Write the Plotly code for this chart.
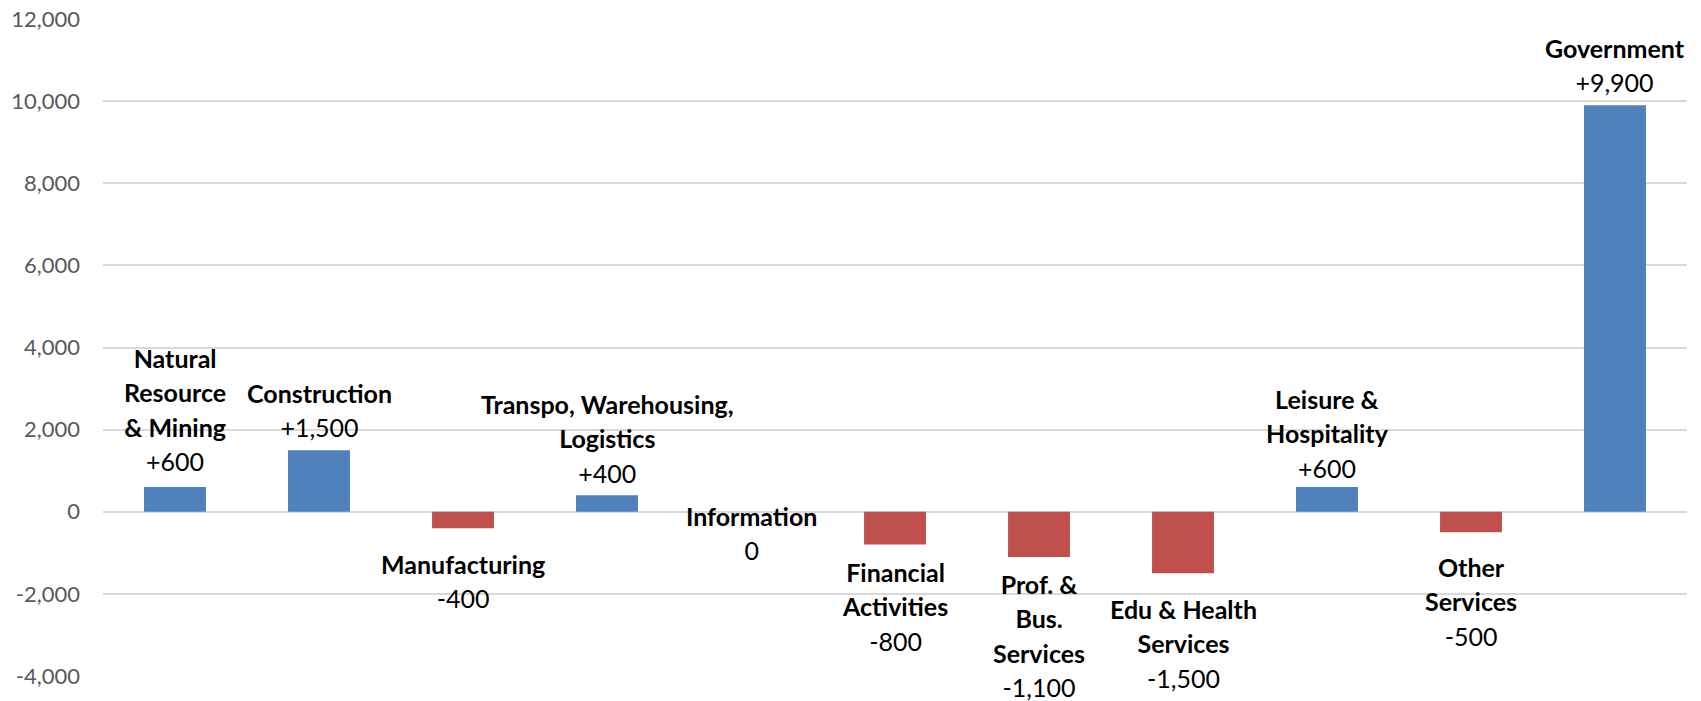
import plotly.graph_objects as go

# ---- data ----
categories = [
    "Natural Resource & Mining", "Construction", "Manufacturing",
    "Transpo, Warehousing, Logistics", "Information", "Financial Activities",
    "Prof. & Bus. Services", "Edu & Health Services", "Leisure & Hospitality",
    "Other Services", "Government",
]
label_lines = [
    ["Natural", "Resource", "& Mining"],
    ["Construction"],
    ["Manufacturing"],
    ["Transpo, Warehousing,", "Logistics"],
    ["Information"],
    ["Financial", "Activities"],
    ["Prof. &", "Bus.", "Services"],
    ["Edu & Health", "Services"],
    ["Leisure &", "Hospitality"],
    ["Other", "Services"],
    ["Government"],
]
values = [600, 1500, -400, 400, 0, -800, -1100, -1500, 600, -500, 9900]
y_ticks = [-4000, -2000, 0, 2000, 4000, 6000, 8000, 10000, 12000]

# ---- styles ----
BLUE = "#4F81BD"
RED = "#C0504D"
FONT = "Lato"
# per-label pixel gap between bar end and label (style only)
label_gap = [9, 6, 19, 5, -13, 10, 10, 19, 2, 18, 6]

colors = [BLUE if v >= 0 else RED for v in values]

fig = go.Figure(go.Bar(
    x=categories, y=values,
    marker=dict(color=colors, line=dict(width=0)),
    hoverinfo="skip",
))

def fmt(v):
    s = f"{abs(v):,}"
    if v > 0:
        return "+" + s
    if v < 0:
        return "-" + s
    return s

for cat, lines, v, g in zip(categories, label_lines, values, label_gap):
    txt = "<br>".join(
        f'<span style="font-size:25px"><b>{ln}</b></span>' for ln in lines
    ) + '<br><span style="font-size:25px">' + fmt(v) + "</span>"
    if v > 0:
        ya, ys = "bottom", g
    else:
        ya, ys = "top", -g
    fig.add_annotation(
        x=cat, y=v, text=txt, showarrow=False,
        xanchor="center", yanchor=ya, yshift=ys,
        font=dict(family=FONT, size=26.5, color="#000000"),
        align="center",
    )

fig.update_layout(
    width=1701, height=701,
    margin=dict(l=103, r=14, t=19, b=25),
    plot_bgcolor="white", paper_bgcolor="white",
    bargap=0.57,
    showlegend=False,
    font=dict(family=FONT),
)
fig.update_xaxes(showticklabels=False, ticks="", showgrid=False,
                 zeroline=False, showline=False, automargin=False)
fig.update_yaxes(
    range=[-4000, 12000], tickvals=y_ticks,
    ticktext=[f"{t:,}" for t in y_ticks],
    tickfont=dict(family=FONT, size=22, color="#595959"),
    showgrid=True, gridcolor="#D9D9D9", gridwidth=1.5,
    zeroline=True, zerolinecolor="#D9D9D9", zerolinewidth=1.5,
    showline=False, ticks="", ticklabelstandoff=22, automargin=False,
)

fig.write_html("out.html")
